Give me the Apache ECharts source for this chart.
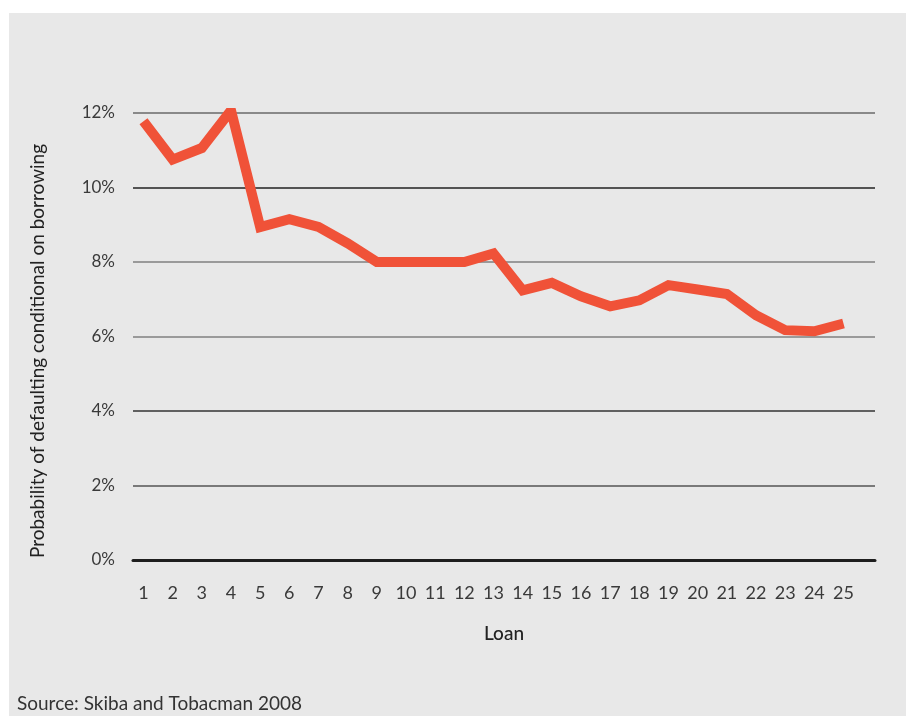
<!DOCTYPE html>
<html>
<head>
<meta charset="utf-8">
<script src="https://cdn.jsdelivr.net/npm/echarts@6/dist/echarts.min.js"></script>
<style>
html,body{margin:0;padding:0;background:#fff;}
#c{width:906px;height:716px;}
</style>
</head>
<body>
<div id="c"></div>
<script>
var loans = [1,2,3,4,5,6,7,8,9,10,11,12,13,14,15,16,17,18,19,20,21,22,23,24,25];
var defaultPct = [11.78,10.75,11.06,12.07,8.94,9.15,8.94,8.5,8.0,8.0,8.0,8.0,8.23,7.24,7.44,7.08,6.81,6.97,7.38,7.26,7.14,6.57,6.17,6.14,6.35];
var yTicks = [0,2,4,6,8,10,12];
var yTitle = 'Probability of defaulting conditional on borrowing';
var xTitle = 'Loan';
var sourceText = 'Source: Skiba and Tobacman 2008';

var FONT = 'Lato, "Noto Sans", sans-serif';
var chart = echarts.init(document.getElementById('c'), null, {renderer:'canvas'});
chart.setOption({
  backgroundColor: '#ffffff',
  animation: false,
  graphic: [
    {type:'rect', left:9, top:13, z:-10, shape:{width:897, height:703}, style:{fill:'#e8e8e8'}},
    {type:'text', left:17, top:694, style:{text:sourceText, font:'19px ' + FONT, fill:'#333'}},
    {type:'text', x:38, y:351, rotation:Math.PI/2,
     style:{text:yTitle, font:'19px ' + FONT, fill:'#222', align:'center', verticalAlign:'middle'}}
  ],
  grid: {left:133, right:31, top:113, bottom:156, containLabel:false},
  xAxis: {
    type:'value', min:0.64, max:26.08,
    name: xTitle, nameLocation:'middle', nameGap:64,
    nameTextStyle:{fontFamily:FONT, fontSize:19, color:'#222', fontWeight:500},
    axisLine:{show:true, onZero:false, lineStyle:{color:'#1e1e1e', width:3}},
    axisTick:{show:false},
    splitLine:{show:false},
    axisLabel:{customValues: loans, margin:24, fontFamily:FONT, fontSize:18, color:'#3a3a3a'}
  },
  yAxis: {
    type:'value', min:yTicks[0], max:yTicks[yTicks.length-1], interval:2,
    axisLine:{show:false},
    axisTick:{show:false},
    splitLine:{show:true, lineStyle:{width:1.5, color:['#222','#555','#333','#808080','#808080','#222','#6a6a6a']}},
    axisLabel:{margin:18, fontFamily:FONT, fontSize:17, color:'#3a3a3a', formatter:'{value}%'}
  },
  series: [{
    type:'line',
    data: loans.map(function(l,i){return [l, defaultPct[i]];}),
    symbol:'none',
    lineStyle:{color:'#f05238', width:10, join:'miter', cap:'butt'},
    z:5
  }]
});
</script>
</body>
</html>
